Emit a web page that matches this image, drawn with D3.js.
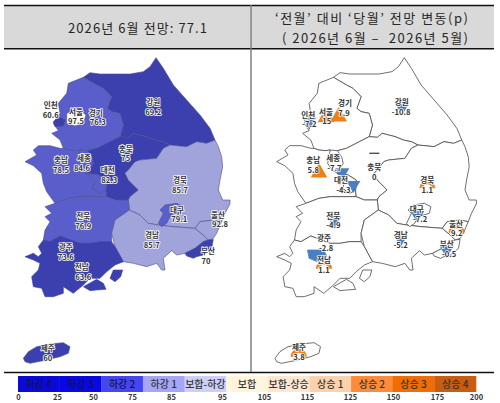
<!DOCTYPE html>
<html>
<head>
<meta charset="utf-8">
<script src="https://cdn.jsdelivr.net/npm/d3@7"></script>
<style>
  html, body { margin: 0; padding: 0; background: #fff; }
  text { font-family: "Noto Sans CJK KR", "Noto Sans", sans-serif; }
</style>
</head>
<body>
<div id="chart"></div>
<script>
// Values
var regions = ["강원", "인천", "서울", "경기", "충북", "충남", "세종", "대전", "경북", "전북", "대구", "울산", "경남", "광주", "전남", "부산", "제주"];
var outlook = [69.2, 60.6, 97.5, 76.3, 75, 78.5, 84.6, 82.3, 85.7, 76.9, 79.1, 92.8, 85.7, 73.6, 63.6, 70, 60];
var change = [-10.8, -7.2, 15, 7.9, 0, 5.8, -7.7, -4.3, 1.1, -4.9, -7.2, 9.2, -5.2, -2.8, 1.1, -0.5, 3.8];

var legendNames = ["하강 4", "하강 3", "하강 2", "하강 1", "보합-하강", "보합", "보합-상승", "상승 1", "상승 2", "상승 3", "상승 4"];
var legendTicks = [0, 25, 50, 75, 85, 95, 105, 115, 125, 150, 175, 200];
var legendColors = ["#0a0ad8", "#0808e4", "#4646ee", "#a5a6f6", "#ced0fa", "#fff5dc", "#fde7d2", "#fcd2ae", "#fd8b3c", "#f26c05", "#c75c12"];

// Map outlines, traced in units of 1/3 px of the left panel
var shapes = {
  "강원": [[[468,173],[490,205],[520,255],[560,300],[600,345],[630,385],[645,420],[620,430],[590,425],[560,440],[510,435],[490,425],[465,420],[440,410],[420,405],[400,400],[385,412],[360,410],[370,375],[360,340],[335,335],[322,325],[335,290],[310,265],[290,255],[250,232],[270,218],[300,222],[350,222],[390,222],[430,215],[450,200]]],
  "경기": [[[250,232],[290,255],[310,265],[335,290],[322,325],[335,335],[360,340],[370,375],[360,410],[320,430],[290,445],[262,452],[240,450],[225,452],[205,450],[190,445],[180,420],[155,400],[175,392],[160,370],[180,340],[175,310],[200,280],[205,250]]],
  "인천": [[[160,365],[175,350],[195,360],[190,378],[165,380]]],
  "서울": [[[200,340],[240,330],[258,345],[250,370],[225,378],[200,370]]],
  "충남": [[[75,485],[110,465],[100,450],[115,437],[150,437],[180,445],[190,445],[205,450],[225,452],[240,450],[232,490],[245,510],[262,520],[285,545],[278,565],[300,580],[318,570],[320,590],[300,590],[280,590],[240,590],[205,595],[165,610],[140,575],[130,550],[125,520],[100,497]]],
  "세종": [[[240,450],[262,452],[275,470],[280,490],[262,520],[245,510],[232,490]]],
  "충북": [[[360,410],[385,412],[400,400],[420,405],[440,410],[465,420],[490,425],[510,435],[490,445],[480,460],[470,475],[420,480],[405,485],[385,510],[375,520],[385,540],[415,570],[390,590],[385,600],[345,600],[320,590],[318,570],[320,540],[295,525],[262,520],[280,490],[275,470],[262,452],[290,445],[320,430]]],
  "대전": [[[262,520],[295,525],[320,540],[318,570],[300,580],[278,565],[285,545]]],
  "경북": [[[645,420],[655,440],[665,470],[668,500],[660,540],[655,570],[668,600],[690,600],[690,612],[675,640],[665,665],[640,660],[600,665],[585,685],[520,680],[475,675],[445,670],[420,645],[388,630],[385,600],[390,590],[415,570],[385,540],[375,520],[385,510],[405,485],[420,480],[470,475],[480,460],[490,445],[510,435],[560,440],[590,425],[620,430]]],
  "전북": [[[165,610],[205,595],[240,590],[280,590],[300,590],[320,590],[345,600],[385,600],[388,630],[345,660],[335,700],[335,725],[300,725],[270,730],[240,730],[180,708],[150,725],[130,720],[135,690],[150,665],[135,650],[155,640],[135,620]]],
  "대구": [[[475,670],[490,640],[480,630],[495,615],[530,610],[550,620],[545,640],[510,650],[500,670],[485,680]]],
  "울산": [[[585,685],[600,665],[640,660],[665,665],[650,700],[640,715],[625,720],[610,705]]],
  "경남": [[[388,630],[420,645],[445,670],[475,675],[520,680],[585,685],[610,705],[625,720],[610,725],[585,745],[555,760],[530,765],[515,752],[490,775],[495,810],[485,810],[470,790],[440,800],[400,790],[370,785],[345,740],[335,700],[345,660]]],
  "광주": [[[170,750],[220,750],[230,770],[200,785],[175,775]]],
  "전남": [[[130,720],[150,725],[180,708],[240,730],[270,730],[300,725],[335,725],[345,740],[370,785],[345,795],[320,815],[300,835],[270,835],[250,855],[220,880],[190,860],[190,880],[160,890],[135,890],[125,865],[100,860],[95,830],[115,810],[120,790],[100,780],[75,770],[100,760],[115,770],[125,760],[115,740]],
         [[340,810],[368,810],[362,830],[345,845],[330,835]],
         [[250,860],[290,838],[310,850],[318,868],[290,870],[270,872]]],
  "부산": [[[555,760],[585,745],[610,725],[625,720],[640,718],[635,745],[610,765],[590,770],[580,775],[560,768]]],
  "제주": [[[70,1075],[85,1055],[110,1040],[150,1032],[190,1028],[210,1040],[205,1060],[180,1070],[140,1080],[90,1090],[75,1085]]]
};
var drawOrder = ["강원", "경기", "충남", "충북", "세종", "대전", "인천", "서울", "경북", "전북", "경남", "울산", "대구", "부산", "전남", "광주", "제주"];

// Label anchors: [name x, name y, value x, value y]
var leftLabels = {
  "강원": [460,307,460,337], "인천": [152,316,152,345], "서울": [228,336,228,365], "경기": [287,340,293,368],
  "충북": [377,447,377,476], "충남": [183,481,183,510], "세종": [252,476,246,505], "대전": [323,512,328,541],
  "경북": [540,540,540,570], "전북": [250,648,250,678], "대구": [531,630,538,659], "울산": [654,645,660,674],
  "경남": [456,707,455,736], "광주": [197,743,197,772], "전남": [245,803,250,833], "부산": [624,755,618,785], "제주": [143,1045,143,1075]
};
var rightLabels = {
  "강원": [455,307,453,336], "인천": [175,345,178,373], "서울": [228,338,230,365], "경기": [285,310,282,340],
  "충북": [373,503,373,533], "충남": [190,481,190,510], "세종": [250,476,253,505], "대전": [273,541,280,570],
  "경북": [532,540,532,570], "전북": [250,648,250,676], "대구": [500,628,510,657], "울산": [618,672,620,700],
  "경남": [452,707,452,736], "광주": [222,716,228,745], "전남": [222,780,222,810], "부산": [590,732,597,762], "제주": [147,1043,147,1073]
};
// Marker centres on the right map
var markerSpots = {
  "강원": [456,322], "인천": [178,365], "서울": [228,352], "경기": [266,350], "충북": [373,485], "충남": [207,518],
  "세종": [277,517], "대전": [310,555], "경북": [532,565], "전북": [253,662], "대구": [502,645], "울산": [620,698],
  "경남": [452,717], "광주": [197,757], "전남": [222,806], "부산": [590,750], "제주": [146,1070]
};

var width = 500, height = 403;
var svg = d3.select("#chart").append("svg")
    .attr("width", width)
    .attr("height", height)
    .style("display", "block");

// Scales
var leftX = d3.scaleLinear().domain([0, 750]).range([0, 250]);
var leftY = d3.scaleLinear().domain([0, 600]).range([0, 200]);
var rightMapX = d3.scaleLinear().domain([75, 691]).range([250 + 80 / 3, 250 + 680 / 3]);
var rightX = d3.scaleLinear().domain([0, 750]).range([250, 500]);
var fillScale = d3.scaleThreshold()
    .domain([75.5, 85, 95])
    .range(["#3b40ae", "#5a5ecb", "#a0a4da", "#fffbe6"]);

// Header bands
svg.append("rect").attr("x", 4).attr("y", 6).attr("width", 246).attr("height", 43).attr("fill", "#d9d9d9");
svg.append("rect").attr("x", 251).attr("y", 6).attr("width", 243).attr("height", 43).attr("fill", "#d9d9d9");

var rules = [[4, 494, 5.5, 5.5, "#111", 1.6], [4, 494, 48.7, 48.7, "#111", 1.4], [4, 494, 372.5, 372.5, "#111", 1.4], [251, 251, 5, 372, "#777", 1.4]];
svg.selectAll("line.rule").data(rules).enter().append("line")
    .attr("class", "rule")
    .attr("x1", function (d) { return d[0]; })
    .attr("x2", function (d) { return d[1]; })
    .attr("y1", function (d) { return d[2]; })
    .attr("y2", function (d) { return d[3]; })
    .attr("stroke", function (d) { return d[4]; })
    .attr("stroke-width", function (d) { return d[5]; });

// Titles, stretched to the widths in the reference
var titles = [
    { text: "2026년 6월 전망: 77.1", x: 68, y: 32.5, w: 139 },
    { text: "‘전월’ 대비 ‘당월’ 전망 변동(p)", x: 275, y: 23, w: 193 },
    { text: "( 2026년 6월 –  2026년 5월)", x: 282, y: 42.5, w: 186 }
];
svg.append("g").selectAll("text").data(titles).enter().append("text")
    .attr("x", function (d) { return d.x; })
    .attr("y", function (d) { return d.y; })
    .attr("textLength", function (d) { return d.w; })
    .attr("lengthAdjust", "spacing")
    .attr("xml:space", "preserve")
    .attr("font-size", 13)
    .attr("fill", "#262626")
    .text(function (d) { return d.text; });

var pathFor = function (xScale) {
    var line = d3.line()
        .x(function (p) { return xScale(p[0]); })
        .y(function (p) { return leftY(p[1]); })
        .curve(d3.curveLinearClosed);
    return function (name) {
        return shapes[name].map(function (ring) { return line(ring); }).join("");
    };
};

// Left map
var leftPath = pathFor(leftX);
svg.append("g").selectAll("path").data(drawOrder).enter().append("path")
    .attr("d", leftPath)
    .attr("fill", function (d) { return fillScale(outlook[regions.indexOf(d)]); })
    .attr("stroke", function (d) { return d === "광주" || d === "전남" ? "#3b40ae" : "#4a4d8a"; })
    .attr("stroke-width", 0.6)
    .attr("stroke-linejoin", "round");

// Right map, outlines only
var rightPath = pathFor(rightMapX);
var hiddenOnRight = ["서울", "세종", "인천"];
svg.append("g").selectAll("path").data(drawOrder.filter(function (d) {
        return hiddenOnRight.indexOf(d) < 0;
    })).enter().append("path")
    .attr("d", rightPath)
    .attr("fill", function (d) { return d === "광주" ? "#4a7fc1" : "#fff"; })
    .attr("stroke", function (d) { return d === "광주" ? "#4a7fc1" : "#4a4a4a"; })
    .attr("stroke-width", 0.8)
    .attr("stroke-linejoin", "round");

// Change markers
var up = "#f07f14", down = "#4a7fc1";
var capArc = d3.arc().innerRadius(4).outerRadius(8).startAngle(-Math.PI / 2).endAngle(Math.PI / 2);
var triangle = d3.symbol().type(d3.symbolTriangle);
var markers = svg.append("g").selectAll("g").data(regions.filter(function (d) { return d !== "광주"; })).enter().append("g")
    .attr("transform", function (d) {
        var s = markerSpots[d];
        return "translate(" + rightX(s[0]) + "," + leftY(s[1]) + ")";
    });
markers.each(function (d) {
    var v = change[regions.indexOf(d)], g = d3.select(this);
    if (v === 0) {
        g.append("rect").attr("x", -5).attr("y", -9).attr("width", 10).attr("height", 1.2).attr("fill", "#333");
    } else if (d === "울산" || (v > 0 && v < 5)) {
        g.append("path").attr("d", capArc()).attr("fill", up);
    } else if (v > 0) {
        g.append("path").attr("d", triangle.size(120)()).attr("fill", up);
    } else {
        g.append("path").attr("d", triangle.size(85)())
            .attr("fill", down)
            .attr("transform", "rotate(180)");
    }
});

// Labels
var drawLabels = function (spots, values, xScale) {
    var g = svg.append("g")
        .attr("text-anchor", "middle")
        .attr("font-size", 7.6)
        .attr("font-weight", 700)
        .attr("fill", "#333");
    regions.forEach(function (name, i) {
        var s = spots[name];
        [[name, s[0], s[1]], [String(values[i]), s[2], s[3]]].forEach(function (t) {
            g.append("text")
                .attr("x", xScale(t[1]))
                .attr("y", leftY(t[2]) + 2.8)
                .attr("stroke", "#fff")
                .attr("stroke-width", 1.6)
                .attr("stroke-linejoin", "round")
                .attr("paint-order", "stroke")
                .text(t[0]);
        });
    });
};
drawLabels(leftLabels, outlook, leftX);
drawLabels(rightLabels, change, rightX);

// Legend
var legendX = d3.scaleBand().domain(legendNames).range([18, 476]);
var legendY = 376, legendH = 16;
var legend = svg.append("g");
legend.selectAll("rect").data(legendNames).enter().append("rect")
    .attr("x", function (d) { return legendX(d); })
    .attr("y", legendY)
    .attr("width", legendX.bandwidth() + 0.3)
    .attr("height", legendH)
    .attr("fill", function (d, i) { return legendColors[i]; });
legend.selectAll("text").data(legendNames).enter().append("text")
    .attr("x", function (d) { return legendX(d) + legendX.bandwidth() / 2; })
    .attr("y", legendY + 12)
    .attr("text-anchor", "middle")
    .attr("font-size", 10)
    .attr("font-weight", 500)
    .attr("fill", function (d, i) { return i < 3 ? "#12124a" : "#333"; })
    .text(function (d) { return d; });

var tickX = d3.scaleLinear()
    .domain(legendTicks)
    .range([18, 57, 93, 132, 171, 222, 264, 307, 350, 393, 437, 476]);
svg.append("g")
    .attr("transform", "translate(0,393)")
    .call(d3.axisBottom(tickX).tickValues(legendTicks).tickSize(0).tickPadding(2).tickFormat(d3.format("d")))
    .call(function (g) { g.select(".domain").remove(); })
    .call(function (g) {
        g.selectAll("text")
            .attr("font-size", 7.5)
            .attr("font-weight", 700)
            .attr("font-family", "'Noto Sans', sans-serif")
            .attr("fill", "#333");
    });
</script>
</body>
</html>
